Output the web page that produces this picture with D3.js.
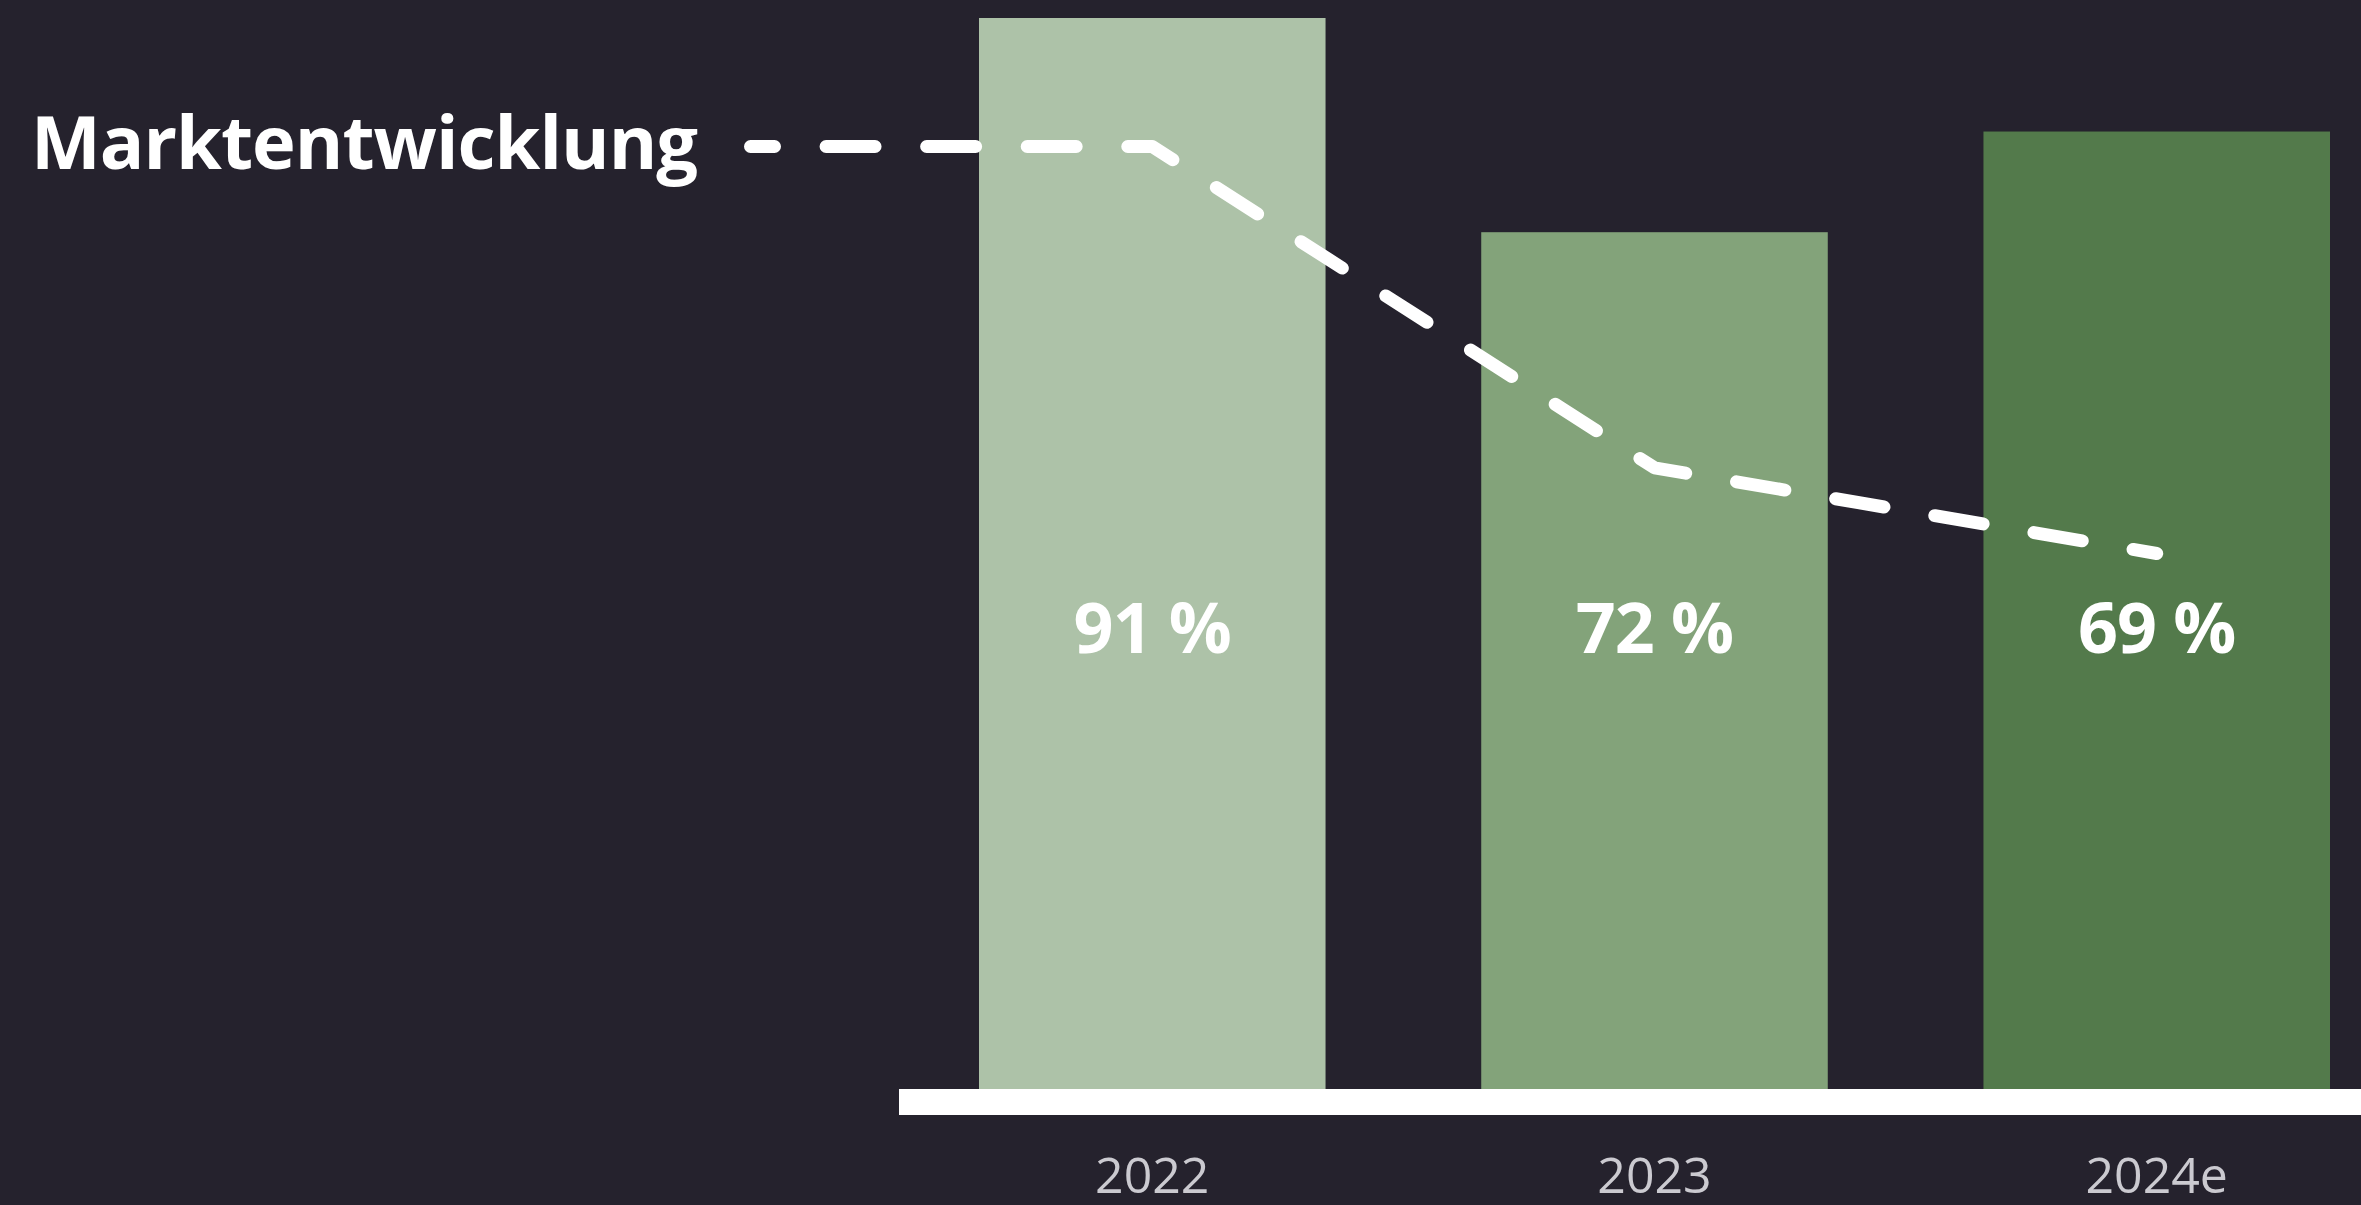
<!DOCTYPE html>
<html>
<head>
<meta http-equiv='Content-Type' content='text/html;charset=utf-8'/>
<title>Marktentwicklung</title>
<script src='https://cdn.jsdelivr.net/npm/d3@7'></script>
<style>
  html, body { margin: 0; padding: 0; background: #25222d; overflow: hidden; }
</style>
</head>
<body>
<script>
'use strict';
// data
const years = ['2022', '2023', '2024e'];
const barValues = [100, 80, 89.4];           // market size index (bar height)
const shareLabels = ['91 %', '72 %', '69 %'];
const trendValues = [88, 58, 50];            // Marktentwicklung line
const barColors = ['#adc2a8', '#83a37a', '#537a4b'];

const width = 2361;
const height = 1205;
const baseY = 1089;                           // bottom of bars / top of base line

const svg = d3.select('body').append('svg')
    .attr('width', width)
    .attr('height', height);

svg.append('rect')
    .attr('width', '100%')
    .attr('height', '100%')
    .attr('fill', '#25222d');

const x = d3.scaleBand()
    .domain(years)
    .range([979, 2330])
    .paddingInner(0.31)
    .paddingOuter(0);

const y = d3.scaleLinear()
    .domain([0, 100])
    .range([baseY, 18]);

// bars
svg.selectAll('rect.bar')
    .data(years)
    .join('rect')
    .attr('class', 'bar')
    .attr('x', d => x(d))
    .attr('y', (d, i) => y(barValues[i]))
    .attr('width', x.bandwidth())
    .attr('height', (d, i) => baseY - y(barValues[i]))
    .attr('fill', (d, i) => barColors[i]);

// base line
svg.append('rect')
    .attr('x', 899)
    .attr('y', baseY)
    .attr('width', width - 899)
    .attr('height', 26)
    .attr('fill', '#ffffff');

// year labels
svg.selectAll('text.year')
    .data(years)
    .join('text')
    .attr('class', 'year')
    .attr('x', d => x(d) + x.bandwidth() / 2)
    .attr('y', 1193)
    .attr('text-anchor', 'middle')
    .attr('font-family', 'Open Sans')
    .attr('font-size', 50)
    .attr('fill', '#cbcad0')
    .text(d => d);

// percentage labels
svg.selectAll('text.share')
    .data(years)
    .join('text')
    .attr('class', 'share')
    .attr('x', d => x(d) + x.bandwidth() / 2)
    .attr('y', 653)
    .attr('text-anchor', 'middle')
    .attr('font-family', 'Open Sans')
    .attr('font-weight', 700)
    .attr('font-size', 70)
    .attr('letter-spacing', -1)
    .attr('fill', '#ffffff')
    .text((d, i) => shareLabels[i]);

// title
svg.append('text')
    .attr('x', 31)
    .attr('y', 169)
    .attr('font-family', 'Open Sans')
    .attr('font-weight', 700)
    .attr('font-size', 74)
    .attr('letter-spacing', -1)
    .attr('fill', '#ffffff')
    .text('Marktentwicklung');

// dashed trend line, led in horizontally from the title
const pts = years.map((d, i) => [x(d) + x.bandwidth() / 2, y(trendValues[i])]);
pts.unshift([750.5, y(trendValues[0])]);

const trend = svg.append('path')
    .attr('d', d3.line()(pts))
    .attr('fill', 'none')
    .attr('stroke', '#ffffff')
    .attr('stroke-width', 13)
    .attr('stroke-linecap', 'round')
    .attr('stroke-linejoin', 'round');

// 49px dashes, short dash at both ends, 14 full dashes between
const dash = 49, endDash = 24;
const len = trend.node().getTotalLength();
const period = (len - 2 * endDash + dash) / 15;
trend.attr('stroke-dasharray', dash + ' ' + (period - dash))
    .attr('stroke-dashoffset', dash - endDash);
</script>
</body>
</html>
